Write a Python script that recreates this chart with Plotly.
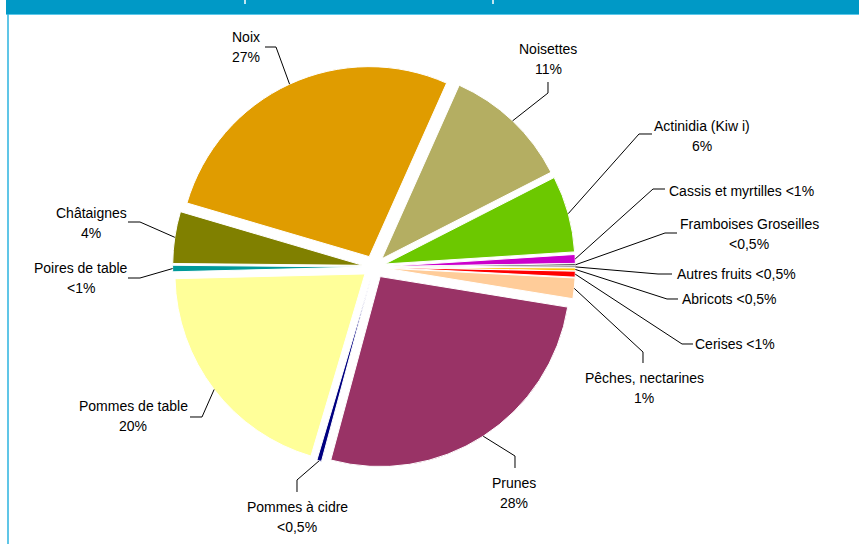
import math
import plotly.graph_objects as go

W, H = 859, 544

# ---- data ----
categories = ["Noix", "Noisettes", "Actinidia (Kiwi)", "Cassis et myrtilles",
              "Framboises Groseilles", "Autres fruits", "Abricots", "Cerises",
              "Pêches, nectarines", "Prunes", "Pommes à cidre", "Pommes de table",
              "Poires de table", "Châtaignes"]
values = [27.1, 10.8, 6.5, 0.75, 0.18, 0.15, 0.25, 0.5, 1.75, 26.6, 0.4, 20.0, 0.55, 4.4]
label_texts = ["Noix\n27%", "Noisettes\n11%", "Actinidia (Kiw i)\n6%",
               "Cassis et myrtilles <1%", "Framboises Groseilles\n<0,5%",
               "Autres fruits <0,5%", "Abricots <0,5%", "Cerises <1%",
               "Pêches, nectarines\n1%", "Prunes\n28%", "Pommes à cidre\n<0,5%",
               "Pommes de table\n20%", "Poires de table\n<1%", "Châtaignes\n4%"]

# ---- style / layout ----
colors = ["#E09C00", "#B4AE62", "#6CC800", "#CC00CC", "#222222", "#444444",
          "#FFC000", "#FF0000", "#FFCC99", "#993366", "#000080", "#FFFF99",
          "#009999", "#808000"]
PULL = 0.06
ROT = -73.6
CX, CY, R = 374.0, 267.0, 190.0  # pixel centre / radius of the pie
box = 2 * R * (1 + PULL)
dom_x = [(CX - box / 2) / W, (CX + box / 2) / W]
dom_y = [1 - (CY + box / 2) / H, 1 - (CY - box / 2) / H]

# label text centre (first line) and leader line elbow/end points, pixels
label_pos = [(246, 37), (548, 49), (702, 126), (741, 191), (749, 224), (736, 274),
             (729, 299), (735, 344), (644, 378), (514, 483), (297, 507), (133, 406),
             (81, 268), (91, 213)]
elbows = [(276, 47), (548, 93), (639, 134), (653, 189), (665, 233), (658, 274),
          (667, 299), (682, 344), (643, 352), (515, 456), (297, 480), (202, 417),
          (140, 278), (140, 222)]
ends = [(265, 47), (548, 82), (652, 134), (665, 189), (677, 233), (672, 274),
        (678, 299), (693, 344), (643, 363), (515, 468), (297, 492), (190, 417),
        (128, 278), (128, 222)]

fig = go.Figure(go.Pie(
    labels=categories, values=values, sort=False, direction="clockwise",
    rotation=ROT, pull=[PULL] * len(values), textinfo="none",
    marker=dict(colors=colors, line=dict(color="white", width=1)),
    domain=dict(x=dom_x, y=dom_y), showlegend=False, hoverinfo="label+percent",
))

def px(x, y):
    return x / W, 1 - y / H

shapes = []
annotations = []
total = sum(values)
cum = 0.0
for i, v in enumerate(values):
    mid = ROT + (cum + v / 2) / total * 360.0
    cum += v
    a = math.radians(mid)
    sx = CX + R * (1 + PULL) * math.sin(a)
    sy = CY - R * (1 + PULL) * math.cos(a)
    pts = [(sx, sy), elbows[i], ends[i]]
    path = "M " + " L ".join(f"{px(x, y)[0]:.5f},{px(x, y)[1]:.5f}" for x, y in pts)
    shapes.append(dict(type="path", xref="paper", yref="paper", path=path,
                       line=dict(color="#000000", width=1)))
    lx, ly = label_pos[i]
    for j, line in enumerate(label_texts[i].split("\n")):
        xx, yy = px(lx, ly + 20 * j)
        annotations.append(dict(x=xx, y=yy, xref="paper", yref="paper", text=line,
                                showarrow=False, xanchor="center", yanchor="middle",
                                font=dict(family="Liberation Sans, Arial", size=14,
                                          color="#000000")))

# header bar and frame
shapes += [
    dict(type="rect", xref="paper", yref="paper", x0=6 / W, x1=1, y0=1 - 14 / H, y1=1,
         fillcolor="#0099C6", line=dict(width=0), layer="above"),
    dict(type="line", xref="paper", yref="paper", x0=6 / W, x1=1, y0=1 - 14.5 / H,
         y1=1 - 14.5 / H, line=dict(color="#5CC8EA", width=1)),
    dict(type="line", xref="paper", yref="paper", x0=8 / W, x1=8 / W, y0=0,
         y1=1 - 14 / H, line=dict(color="#2BB3DF", width=1.5)),
    dict(type="line", xref="paper", yref="paper", x0=245 / W, x1=245 / W, y0=1,
         y1=1 - 4 / H, line=dict(color="white", width=1.5), layer="above"),
    dict(type="line", xref="paper", yref="paper", x0=493 / W, x1=493 / W, y0=1,
         y1=1 - 4 / H, line=dict(color="white", width=1.5), layer="above"),
]

fig.update_layout(width=W, height=H, margin=dict(l=0, r=0, t=0, b=0),
                  paper_bgcolor="white", plot_bgcolor="white",
                  shapes=shapes, annotations=annotations)
fig.write_html("out.html", config={"displayModeBar": False},
               post_script="document.body.style.margin='0';document.body.style.overflow='hidden';")
